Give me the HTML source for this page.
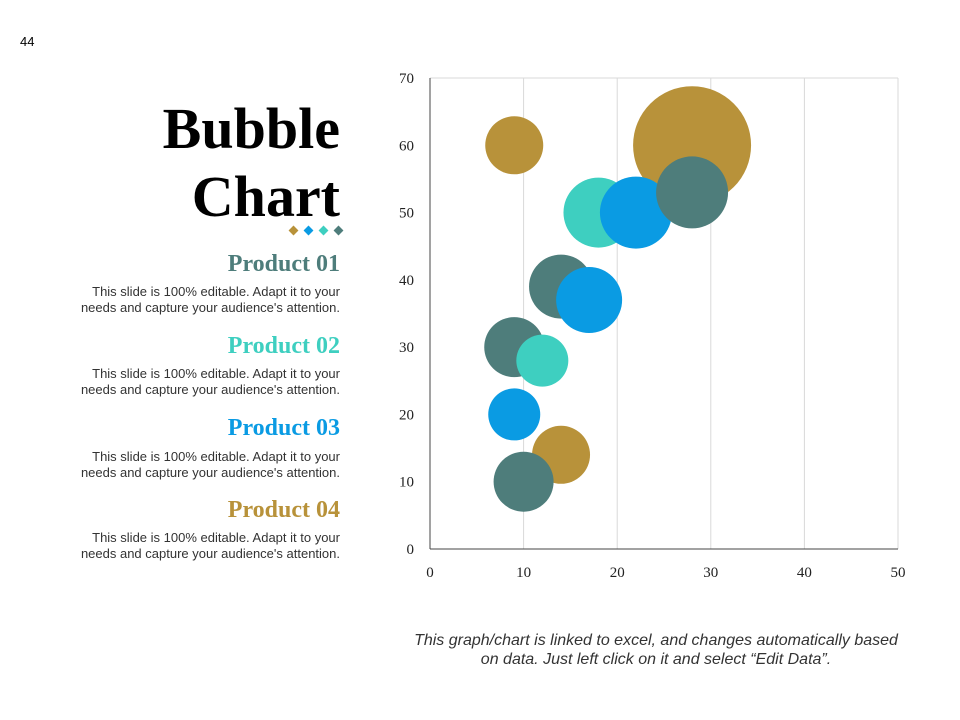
<!DOCTYPE html>
<html><head><meta charset="utf-8"><style>
body{margin:0;width:960px;height:720px;background:#fff;position:relative;overflow:hidden;font-family:"Liberation Sans",sans-serif}
.abs{position:absolute}
.title{right:620px;font-family:"Liberation Serif",serif;font-weight:bold;font-size:58px;color:#000;text-align:right;line-height:68px;top:95px}
.ph{right:620px;font-family:"Liberation Serif",serif;font-weight:bold;font-size:24px;text-align:right}
.pd{right:620px;font-size:13px;color:#333;text-align:right;line-height:16px;white-space:nowrap}
</style></head><body>
<div class="abs" style="left:20px;top:34px;font-size:13px">44</div>
<div class="abs title">Bubble<br>Chart</div>
<svg class="abs" style="left:285px;top:224px" width="60" height="14">
<rect x="5" y="3" width="7" height="7" fill="#b8923a" transform="rotate(45 8.5 6.5)"/>
<rect x="20" y="3" width="7" height="7" fill="#0a9be3" transform="rotate(45 23.5 6.5)"/>
<rect x="35" y="3" width="7" height="7" fill="#3ecfc0" transform="rotate(45 38.5 6.5)"/>
<rect x="50" y="3" width="7" height="7" fill="#4e7d7b" transform="rotate(45 53.5 6.5)"/>
</svg>
<div class="abs ph" style="top:251px;color:#4e7d7b">Product 01</div>
<div class="abs pd" style="top:284px">This slide is 100% editable. Adapt it to your<br>needs and capture your audience's attention.</div>
<div class="abs ph" style="top:333px;color:#3ecfc0">Product 02</div>
<div class="abs pd" style="top:366px">This slide is 100% editable. Adapt it to your<br>needs and capture your audience's attention.</div>
<div class="abs ph" style="top:415px;color:#0a9be3">Product 03</div>
<div class="abs pd" style="top:449px">This slide is 100% editable. Adapt it to your<br>needs and capture your audience's attention.</div>
<div class="abs ph" style="top:497px;color:#b8923a">Product 04</div>
<div class="abs pd" style="top:530px">This slide is 100% editable. Adapt it to your<br>needs and capture your audience's attention.</div>
<svg id="chart" class="abs" style="left:0;top:0" width="960" height="720"></svg>
<div class="abs" style="left:386px;width:540px;top:631px;text-align:center;font-style:italic;font-size:16px;color:#333;line-height:19px;white-space:nowrap">This graph/chart is linked to excel, and changes automatically based<br>on data. Just left click on it and select “Edit Data”.</div>
<script>
const xTicks=[0,10,20,30,40,50];
const yTicks=[0,10,20,30,40,50,60,70];
const bx=[28,9,18,22,28,14,17,9,12,9,14,10];
const by=[60,60,50,50,53,39,37,30,28,20,14,10];
const bsize=[59,29,35,36,36,32,33,30,26,26,29,30];
const bseries=["gold","gold","teal","blue","dark","dark","blue","dark","teal","blue","gold","dark"];
const colors={gold:"#b8923a",teal:"#3ecfc0",blue:"#0a9be3",dark:"#4e7d7b"};
const X0=430,X1=898,Y0=549,Y1=78;
const sx=v=>X0+(v-0)/(50-0)*(X1-X0);
const sy=v=>Y0-(v-0)/(70-0)*(Y0-Y1);
const svg=document.getElementById('chart');
const NS="http://www.w3.org/2000/svg";
function mk(t,a){const e=document.createElementNS(NS,t);for(const k in a)e.setAttribute(k,a[k]);svg.appendChild(e);return e;}
xTicks.forEach(t=>{if(t>0){const l=mk('line',{x1:sx(t),x2:sx(t),y1:Y1,y2:Y0,stroke:'#d9d9d9'});

}
const tx=mk('text',{x:sx(t),y:Y0+28,'text-anchor':'middle','font-family':'Liberation Serif,serif','font-size':15,fill:'#222'});tx.textContent=t;

});
yTicks.forEach(t=>{const tx=mk('text',{x:414,y:sy(t)+5,'text-anchor':'end','font-family':'Liberation Serif,serif','font-size':15,fill:'#222'});tx.textContent=t;

});
const topLine=mk('line',{x1:X0,x2:X1,y1:Y1,y2:Y1,stroke:'#d9d9d9'});


bx.forEach((v,i)=>{const c=mk('circle',{cx:sx(v),cy:sy(by[i]),r:bsize[i],fill:colors[bseries[i]]});

});
const ya=mk('line',{x1:X0,x2:X0,y1:Y1,y2:Y0,stroke:'#444'});


const xa=mk('line',{x1:X0,x2:X1,y1:Y0,y2:Y0,stroke:'#444'});


</script>
</body></html>
